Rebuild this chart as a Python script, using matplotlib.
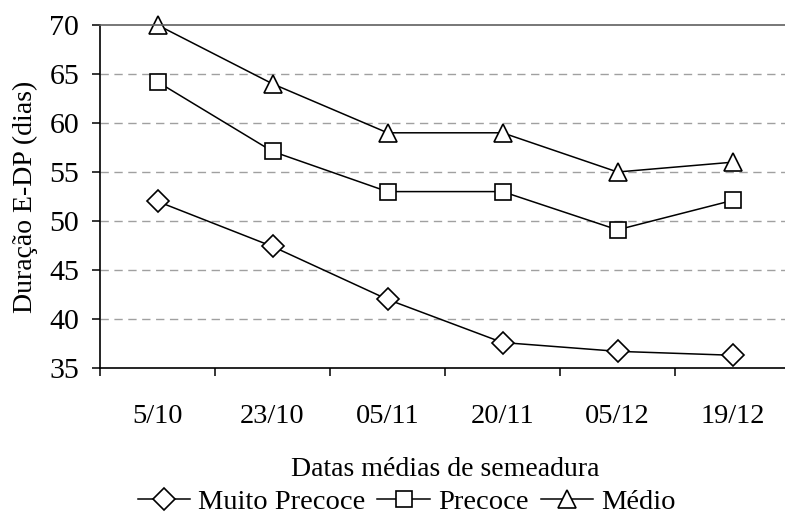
import matplotlib
matplotlib.use("Agg")
import matplotlib.pyplot as plt

# dados
datas = ["5/10", "23/10", "05/11", "20/11", "05/12", "19/12"]
muito_precoce = [52.0, 47.4, 42.0, 37.6, 36.7, 36.3]
precoce = [64.2, 57.1, 53.0, 53.0, 49.1, 52.1]
medio = [70.0, 64.0, 59.0, 59.0, 55.0, 56.0]
yticks = [35, 40, 45, 50, 55, 60, 65, 70]

plt.rcParams['font.family'] = ['Liberation Serif', 'DejaVu Serif']

fig = plt.figure(figsize=(7.85, 5.25), dpi=100)
ax = fig.add_axes([100/785, 157/525, 690/785, 343/525])

x = list(range(len(datas)))
estilo = dict(color='black', lw=1.1, markersize=12, markerfacecolor='white',
              markeredgecolor='black', markeredgewidth=1.2, clip_on=False)
ax.plot(x, muito_precoce, marker='D', label='Muito Precoce', **dict(estilo, markersize=11))
ax.plot(x, precoce, marker='s', label='Precoce', **estilo)
ax.plot(x, medio, marker='^', label='Médio', **dict(estilo, markersize=13))

ax.set_xlim(-0.5, len(datas) - 0.5)
ax.set_ylim(35, 70)
ax.set_yticks(yticks)
ax.set_xticks([i + 0.5 for i in range(-1, len(datas))])
ax.set_xticklabels([])
ax.set_xticks(x, minor=True)
ax.set_xticklabels(datas, minor=True)

# linhas de grade
for v in yticks[1:-1]:
    ax.axhline(v, color='#a0a0a0', lw=1.0, ls=(0, (6, 4)), zorder=0)

ax.spines['right'].set_visible(False)
ax.spines['top'].set_color('#606060')
ax.spines['top'].set_linewidth(1.2)
ax.spines['left'].set_linewidth(1.2)
ax.spines['bottom'].set_linewidth(1.2)

ax.tick_params(axis='y', which='major', direction='out', length=6, width=1.1,
               labelsize=21.5, pad=9)
ax.tick_params(axis='x', which='major', direction='out', length=6, width=1.1)
ax.tick_params(axis='x', which='minor', length=0, labelsize=20.5, pad=26)

ax.set_ylabel('Duração E-DP (dias)', fontsize=20, labelpad=8)
ax.set_xlabel('Datas médias de semeadura', fontsize=20, labelpad=20)

fig.legend(loc='center', bbox_to_anchor=(0.518, 0.043), ncol=3, frameon=False,
           fontsize=20.5, handlelength=1.85, handletextpad=0.28, columnspacing=0.42,
           borderaxespad=0)

fig.savefig('out.png', dpi=100)
